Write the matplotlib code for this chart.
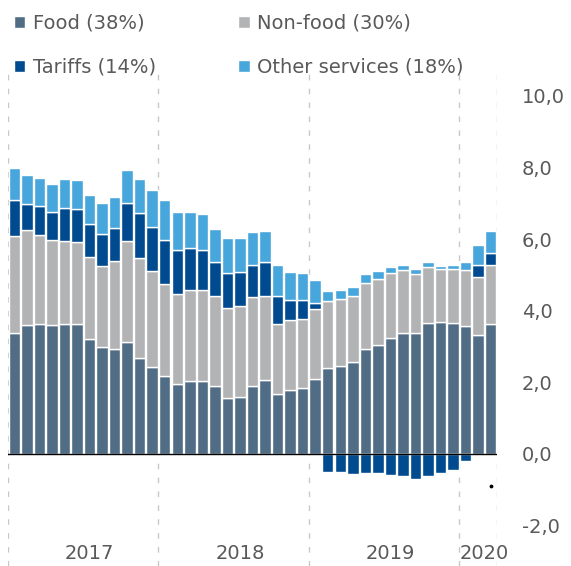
import numpy as np
import matplotlib
matplotlib.use("Agg")
import matplotlib.pyplot as plt

# monthly contributions, Jan 2017 - Mar 2020
food = [3.39, 3.59, 3.64, 3.59, 3.64, 3.64, 3.21, 2.99, 2.93, 3.14, 2.67, 2.42,
        2.18, 1.94, 2.03, 2.03, 1.89, 1.55, 1.59, 1.89, 2.07, 1.68, 1.79, 1.84,
        2.10, 2.39, 2.46, 2.58, 2.92, 3.03, 3.25, 3.37, 3.39, 3.65, 3.68, 3.65,
        3.57, 3.31, 3.62]
nonfood = [2.71, 2.66, 2.48, 2.39, 2.30, 2.28, 2.29, 2.26, 2.45, 2.82, 2.80, 2.68,
           2.57, 2.53, 2.56, 2.56, 2.52, 2.53, 2.55, 2.48, 2.35, 1.95, 1.96, 1.94,
           1.96, 1.88, 1.86, 1.84, 1.86, 1.86, 1.81, 1.76, 1.65, 1.56, 1.49, 1.51,
           1.56, 1.63, 1.65]
tariffs = [1.00, 0.74, 0.80, 0.77, 0.94, 0.93, 0.93, 0.88, 0.92, 1.06, 1.26, 1.25,
           1.23, 1.23, 1.15, 1.11, 0.94, 0.97, 0.93, 0.91, 0.93, 0.78, 0.54, 0.51,
           0.17, -0.50, -0.50, -0.55, -0.53, -0.54, -0.59, -0.61, -0.71, -0.62, -0.52, -0.44,
           -0.21, 0.34, 0.34]
other = [0.90, 0.79, 0.79, 0.80, 0.81, 0.81, 0.79, 0.88, 0.87, 0.90, 0.96, 1.01,
         1.12, 1.07, 1.03, 1.00, 0.94, 0.97, 0.97, 0.91, 0.87, 0.87, 0.80, 0.77,
         0.64, 0.28, 0.25, 0.24, 0.24, 0.22, 0.17, 0.14, 0.12, 0.14, 0.08, 0.11,
         0.23, 0.55, 0.63]
years = ["2017", "2018", "2019", "2020"]
year_start = [0, 12, 24, 36]
year_len = [12, 12, 12, 3]
dot_value = -0.9

series = [("Food (38%)", food, "#516d85"),
          ("Non-food (30%)", nonfood, "#b2b3b5"),
          ("Tariffs (14%)", tariffs, "#004a8f"),
          ("Other services (18%)", other, "#47a6db")]

grey = "#595959"
plt.rcParams["font.family"] = "DejaVu Sans"

fig = plt.figure(figsize=(5.71, 5.66), dpi=100)
ax = fig.add_axes([8 / 571, 0, 489 / 571, (566 - 68) / 566])

x = np.arange(len(food))
pos_base = np.zeros(len(x))
neg_base = np.zeros(len(x))
handles = {}
for label, vals, color in series:
    v = np.array(vals)
    bottom = np.where(v >= 0, pos_base, neg_base)
    bars = ax.bar(x, v, bottom=bottom, width=0.92, color=color,
                  edgecolor="white", linewidth=1.0, label=label)
    handles[label] = bars
    pos_base = pos_base + np.where(v >= 0, v, 0)
    neg_base = neg_base + np.where(v < 0, v, 0)

ax.scatter([x[-1]], [dot_value], s=3, color="black", zorder=5)

ax.axhline(0, color="black", lw=1.0, zorder=4)

# year dividers
n = len(x)
for b in [-0.5] + [s + l - 0.5 for s, l in zip(year_start, year_len)]:
    ax.axvline(b, color="#c8c8c8", lw=1.0, ls=(0, (4, 6)), zorder=0)

ax.set_xlim(-0.5, n - 0.5)
ax.set_ylim(-3.13, 10.78)
for yr, s, l in zip(years, year_start, year_len):
    ax.text(s + l / 2, -2.77, yr, ha="center", va="center", fontsize=14, color=grey)

ax.yaxis.tick_right()
ax.set_yticks(np.arange(-2, 11, 2))
ax.set_yticklabels([f"{t:.1f}".replace(".", ",") for t in np.arange(-2, 11, 2)])
ax.tick_params(axis="y", length=0, pad=18, labelsize=14, labelcolor=grey)
ax.set_xticks([])
for sp in ax.spines.values():
    sp.set_visible(False)

order = ["Food (38%)", "Tariffs (14%)", "Non-food (30%)", "Other services (18%)"]
leg = fig.legend([handles[k] for k in order], order, ncol=2, loc="upper left",
                 bbox_to_anchor=(0.0, 1.0), frameon=False, fontsize=14,
                 handlelength=0.6, handleheight=0.6, handletextpad=0.4,
                 labelspacing=1.3, columnspacing=4.2, borderaxespad=0.3)
for t in leg.get_texts():
    t.set_color(grey)

fig.savefig("out.png", dpi=100)
